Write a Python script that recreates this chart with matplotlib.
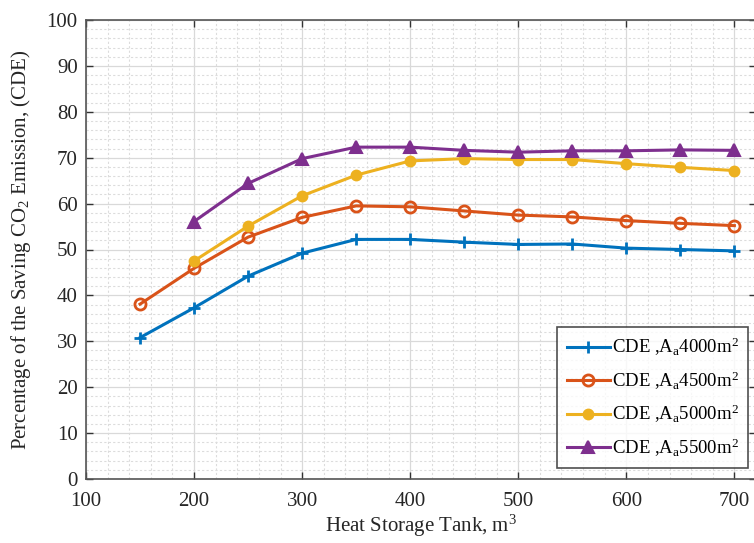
import matplotlib
matplotlib.use("Agg")
import matplotlib.pyplot as plt
from matplotlib.ticker import MultipleLocator

plt.rcParams['font.family'] = ['Liberation Serif', 'DejaVu Serif']
plt.rcParams['mathtext.fontset'] = 'custom'
plt.rcParams['mathtext.rm'] = 'Liberation Serif'
plt.rcParams['mathtext.it'] = 'Liberation Serif'

tank_volume = [150, 200, 250, 300, 350, 400, 450, 500, 550, 600, 650, 700]
tank_volume_5500 = [200, 250, 300, 350, 400, 450, 500, 550, 600, 650, 700]
tank_volume_5000 = [200, 250, 300, 350, 400, 450, 500, 550, 600, 650, 700]

cde_4000 = [30.8, 37.3, 44.2, 49.2, 52.2, 52.2, 51.6, 51.1, 51.2, 50.3, 50.0, 49.7]
cde_4500 = [38.1, 45.9, 52.7, 57.0, 59.5, 59.3, 58.4, 57.5, 57.1, 56.3, 55.7, 55.2]
cde_5000 = [47.5, 55.1, 61.7, 66.2, 69.3, 69.8, 69.6, 69.6, 68.7, 67.9, 67.2]
cde_5500 = [56.1, 64.4, 69.8, 72.3, 72.3, 71.6, 71.2, 71.5, 71.5, 71.7, 71.6]

labels = [r'CDE ,A$_{\mathrm{a}}$4000m$^{2}$',
          r'CDE ,A$_{\mathrm{a}}$4500m$^{2}$',
          r'CDE ,A$_{\mathrm{a}}$5000m$^{2}$',
          r'CDE ,A$_{\mathrm{a}}$5500m$^{2}$']
colors = ['#0072BD', '#D95319', '#EDB120', '#7E2F8E']

fig = plt.figure(figsize=(7.54, 5.43), dpi=100)
ax = fig.add_axes([86 / 754, 1 - 479 / 543, (756 - 86) / 754, (479 - 20) / 543])

ax.plot(tank_volume, cde_4000, color=colors[0], lw=2.2, marker='+', ms=8,
        mew=2, label=labels[0])
ax.plot(tank_volume, cde_4500, color=colors[1], lw=2.2, marker='o', ms=8,
        mew=2, mfc='none', label=labels[1])
ax.plot(tank_volume_5000, cde_5000, color=colors[2], lw=2.2, marker='o', ms=7,
        mew=1.5, label=labels[2])
ax.plot(tank_volume_5500, cde_5500, color=colors[3], lw=2.2, marker='^', ms=9,
        mew=1.5, label=labels[3])

ax.set_xlim(100, 720)
ax.set_ylim(0, 100)
ax.xaxis.set_major_locator(MultipleLocator(100))
ax.xaxis.set_minor_locator(MultipleLocator(20))
ax.yaxis.set_major_locator(MultipleLocator(10))
ax.yaxis.set_minor_locator(MultipleLocator(2))
ax.set_xticks([100, 200, 300, 400, 500, 600, 700])

ax.grid(which='major', color='#d9d9d9', lw=0.9)
ax.grid(which='minor', color='#dcdcdc', lw=0.8, ls=(0, (2, 2)))
ax.set_axisbelow(True)

for s in ax.spines.values():
    s.set_color('#555555')
    s.set_linewidth(1.2)
ax.tick_params(which='major', direction='in', length=5, width=1, color='#333333',
               labelsize=15, labelcolor='#262626', top=True, right=True, pad=6)
ax.tick_params(axis='x', which='major', pad=9)
ax.tick_params(which='minor', length=0)

ax.set_xlabel(r'Heat Storage Tank, m$^{3}$', fontsize=15, color='#262626', labelpad=2)
ax.set_ylabel(r'Percentage of the Saving CO$_{2}$ Emission, (CDE)', fontsize=15,
              color='#262626', labelpad=10)

leg = ax.legend(loc='lower right', fontsize=13.5, frameon=True, fancybox=False,
                edgecolor='#222222', handlelength=2.3, handletextpad=0.1,
                borderaxespad=0, labelspacing=0.6, borderpad=0.5,
                bbox_to_anchor=(0.988, 0.024))
leg.get_frame().set_linewidth(1.2)

fig.savefig('out.png', dpi=100)
